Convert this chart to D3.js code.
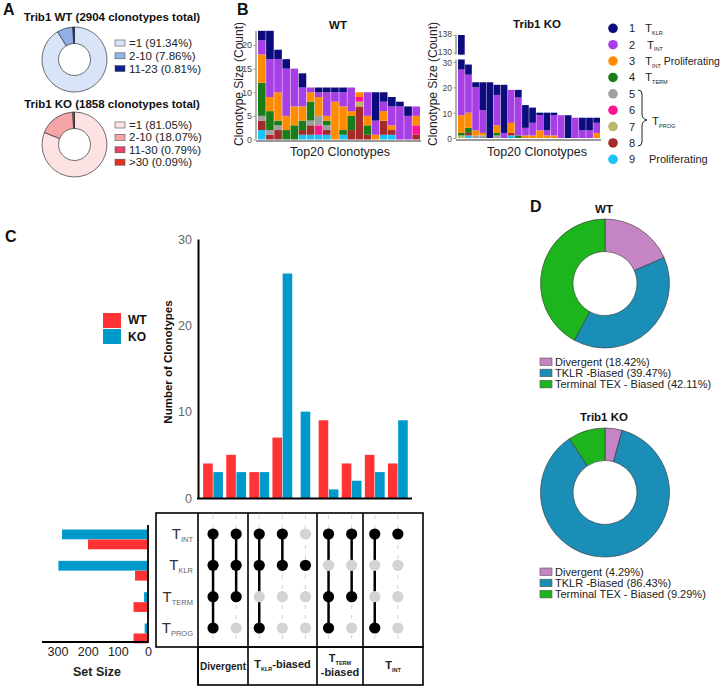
<!DOCTYPE html>
<html><head><meta charset="utf-8">
<script src="https://cdn.jsdelivr.net/npm/d3@7"></script>
<style>body{margin:0;background:#fff}svg{font-family:"Liberation Sans",Arial,sans-serif}</style>
</head><body><svg id="c" width="720" height="687"></svg>
<script>
// ---------------- DATA ----------------
const aWTTitle = "Trib1 WT (2904 clonotypes total)";
const aWTLabels = ["=1 (91.34%)", "2-10 (7.86%)", "11-23 (0.81%)"];
const aWTValues = [91.34, 7.86, 0.81];
const aWTColors = ["#d8e4f7", "#8fb1e6", "#0b1f8f"];
const aKOTitle = "Trib1 KO (1858 clonotypes total)";
const aKOLabels = ["=1 (81.05%)", "2-10 (18.07%)", "11-30 (0.79%)", ">30 (0.09%)"];
const aKOValues = [81.05, 18.07, 0.79, 0.09];
const aKOColors = ["#fde2e4", "#f5a4a7", "#e8456b", "#e0301e"];

const clusterIds = [1, 2, 3, 4, 5, 6, 7, 8, 9];
const clusterColors = ["#0c0c7c", "#a83ee6", "#ff8c00", "#1a7d1a", "#a0a0a0", "#ff1493", "#bdb76b", "#a52a2a", "#19c3f5"];
// counts per cluster 1..9 for each of the top-20 clonotypes
const wtTop20 = [
  [2,3,6,7,1,0,0,2,2],[6,8,3,4,1,0,0,1,0],[2,7,6,1,1,0,0,2,0],[2,10,3,2,0,0,0,0,0],
  [0,8,4,3,0,0,0,0,0],[3,4,3,2,0,0,0,1,1],[0,1,2,4,1,0,0,2,1],[1,1,4,0,2,2,0,0,1],
  [1,5,1,1,1,0,0,1,1],[1,2,8,0,0,0,0,0,0],[1,3,5,1,0,0,0,0,1],[0,5,1,3,0,0,0,2,0],
  [0,0,1,0,0,1,1,7,0],[0,5,2,2,0,0,0,1,0],[6,3,1,0,0,0,0,0,0],[2,2,2,0,0,0,0,3,1],
  [2,4,1,0,0,0,0,1,1],[1,7,0,0,0,0,0,0,0],[2,5,0,0,0,0,0,0,0],[0,2,2,0,0,2,0,1,0]
];
const koTop20 = [
  [111,18,7,1,0,0,1,0,0],[4,15,6,2,0,0,0,1,1],[2,17,2,0,1,0,0,0,0],[11,9,1,0,1,0,0,0,0],
  [22,0,0,0,0,0,0,0,0],[4,12,3,1,1,0,0,0,0],[19,2,0,0,0,0,0,0,0],[0,13,4,0,0,0,0,1,1],
  [3,15,0,1,0,0,0,0,0],[9,3,1,0,0,0,0,0,0],[6,5,1,0,0,0,0,0,0],[1,6,3,0,0,0,0,0,0],
  [7,2,1,0,0,0,0,0,0],[1,8,1,0,0,0,0,0,0],[0,9,0,0,0,0,0,0,0],[9,0,0,0,0,0,0,0,0],
  [0,8,0,0,0,0,0,0,0],[5,3,0,0,0,0,0,0,0],[5,3,0,0,0,0,0,0,0],[2,4,2,0,0,0,0,0,0]
];
const wtTicks = [0, 5, 10, 15, 20];
const koLowTicks = [0, 10, 20, 30];
const koHighTicks = [130, 138];

const upsetWT = [4, 5, 3, 7, 0, 9, 4, 5, 4];
const upsetKO = [3, 3, 3, 26, 10, 1, 2, 3, 9];
const upsetTicks = [0, 10, 20, 30];
const upsetSets = ["INT", "KLR", "TERM", "PROG"];
const upsetMembership = [
  ["INT","KLR","TERM","PROG"], ["INT","KLR","TERM"], ["INT","KLR","PROG"], ["INT","KLR"],
  ["KLR"], ["INT","TERM","PROG"], ["INT","TERM"], ["INT","PROG"], ["INT"]
];
const upsetGroups = ["Divergent", "KLR", "TERM", "INT"];
const setSizeWT = [199, 43, 48, 48];
const setSizeKO = [285, 297, 13, 11];
const setSizeTicks = [300, 200, 100, 0];

const dLabels = ["Divergent", "TKLR -Biased", "Terminal TEX - Biased"];
const dColors = ["#c585c4", "#1a8eb6", "#1db51d"];
const dWTValues = [18.42, 39.47, 42.11];
const dKOValues = [4.29, 86.43, 9.29];

const RED = "#ff3333", BLUE = "#0099cc";

// ---------------- HELPERS ----------------
const svg = d3.select("#c");
function txt(x, y, s, o = {}) {
  const t = svg.append("text").attr("x", x).attr("y", y).text(s)
    .attr("font-size", o.size || 12).attr("fill", o.fill || "#111")
    .attr("font-weight", o.weight || "normal").attr("text-anchor", o.anchor || "start");
  if (o.rotate) t.attr("transform", `rotate(${o.rotate},${x},${y})`);
  return t;
}
function tsub(x, y, sub, o = {}) {
  const t = svg.append("text").attr("x", x).attr("y", y)
    .attr("text-anchor", o.anchor || "start").attr("fill", o.fill || "#111")
    .attr("font-weight", o.weight || "normal");
  t.append("tspan").attr("font-size", o.size || 12).text("T");
  t.append("tspan").attr("font-size", o.subSize || 6).attr("dy", o.subDy || 2.5)
    .attr("fill", o.subFill || o.fill || "#111").text(sub);
  if (o.after) t.append("tspan").attr("font-size", o.afterSize || o.size || 12).attr("dy", -(o.subDy || 2.5)).text(o.after);
  return t;
}

// ---------------- PANEL A ----------------
txt(3, 15, "A", {size: 16, weight: "bold"});
function donutA(cx, cy, values, colors, labels, title, titleY, legY, legStep) {
  txt(112, titleY, title, {size: 11.5, weight: "bold", anchor: "middle"});
  const pie = d3.pie().sort(null).value(d => d)(values);
  const arc = d3.arc().innerRadius(16).outerRadius(32.5);
  svg.append("g").attr("transform", `translate(${cx},${cy})`)
    .selectAll("path").data(pie).join("path")
    .attr("d", arc).attr("fill", (d, i) => colors[i]).attr("stroke", "#333").attr("stroke-width", 0.7);
  labels.forEach((l, i) => {
    const y = legY + i * legStep;
    svg.append("rect").attr("x", 115).attr("y", y - 3).attr("width", 10).attr("height", 6)
      .attr("fill", colors[i]).attr("stroke", "#555").attr("stroke-width", 0.6);
    txt(129, y + 4, l, {size: 11.5, fill: "#222"});
  });
}
donutA(74.5, 59.5, aWTValues, aWTColors, aWTLabels, aWTTitle, 21, 43, 12.8);
donutA(74.5, 144.5, aKOValues, aKOColors, aKOLabels, aKOTitle, 108, 125, 12.4);

// ---------------- PANEL B ----------------
txt(237, 15, "B", {size: 16, weight: "bold"});
const stackKeys = [8, 7, 6, 5, 4, 3, 2, 1, 0]; // cluster 9 at bottom ... cluster 1 on top
function stackRows(rows) {
  return d3.stack().keys(stackKeys).value((d, k) => d[k])(rows);
}
// WT
const xWT = d3.scaleBand().domain(d3.range(20)).range([258, 420]).paddingInner(0.06);
const yWT = d3.scaleLinear().domain([0, 20]).range([139.5, 45]);
const gWT = svg.append("g");
stackRows(wtTop20).forEach(layer => {
  gWT.selectAll(null).data(layer.filter(d => d[1] > d[0])).join("rect")
    .attr("x", d => xWT(wtTop20.indexOf(d.data)))
    .attr("width", xWT.bandwidth())
    .attr("y", d => yWT(d[1])).attr("height", d => yWT(d[0]) - yWT(d[1]))
    .attr("fill", clusterColors[layer.key]);
});
const axWT = svg.append("g").attr("transform", "translate(256,0)")
  .call(d3.axisLeft(yWT).tickValues(wtTicks).tickSize(2.5).tickPadding(1.5));
axWT.select(".domain").attr("d", `M0,${yWT(0)}V31`).attr("stroke", "#999").attr("stroke-width", 1.5);
axWT.selectAll(".tick line").attr("stroke", "#999");
axWT.selectAll(".tick text").attr("font-size", 9).attr("fill", "#444").attr("font-family", "Liberation Sans, Arial");
svg.append("line").attr("x1", 256).attr("x2", 421).attr("y1", 141).attr("y2", 141).attr("stroke", "#999").attr("stroke-width", 2);
txt(243, 84, "Clonotype Size (Count)", {size: 12, anchor: "middle", rotate: -90, fill: "#222"});
txt(338, 29, "WT", {size: 11.5, weight: "bold", anchor: "middle"});
txt(340, 156, "Top20 Clonotypes", {size: 12.5, anchor: "middle", fill: "#222"});

// KO (broken axis)
const xKO = d3.scaleBand().domain(d3.range(20)).range([458, 600]).paddingInner(0.06);
const yKOlow = d3.scaleLinear().domain([0, 30]).range([138, 62]);
const yKOhigh = d3.scaleLinear().domain([130, 138]).range([52.5, 35]);
const LOWMAX = 31, HIGHMIN = 129;
const gKO = svg.append("g");
stackRows(koTop20).forEach(layer => {
  layer.filter(d => d[1] > d[0]).forEach(d => {
    const xi = xKO(koTop20.indexOf(d.data));
    if (d[0] < LOWMAX) {
      const top = Math.min(d[1], LOWMAX);
      gKO.append("rect").attr("x", xi).attr("width", xKO.bandwidth())
        .attr("y", yKOlow(top)).attr("height", yKOlow(d[0]) - yKOlow(top)).attr("fill", clusterColors[layer.key]);
    }
    if (d[1] > HIGHMIN) {
      const bot = Math.max(d[0], HIGHMIN);
      gKO.append("rect").attr("x", xi).attr("width", xKO.bandwidth())
        .attr("y", yKOhigh(d[1])).attr("height", yKOhigh(bot) - yKOhigh(d[1])).attr("fill", clusterColors[layer.key]);
    }
  });
});
const axKOl = svg.append("g").attr("transform", "translate(456,0)")
  .call(d3.axisLeft(yKOlow).tickValues(koLowTicks).tickSize(2.5).tickPadding(1.5));
axKOl.select(".domain").attr("d", `M0,${yKOlow(0)}V${yKOlow(LOWMAX)}`).attr("stroke", "#999").attr("stroke-width", 1.5);
const axKOh = svg.append("g").attr("transform", "translate(456,0)")
  .call(d3.axisLeft(yKOhigh).tickValues(koHighTicks).tickSize(2.5).tickPadding(1.5));
axKOh.select(".domain").attr("d", `M0,${yKOhigh(HIGHMIN)}V${yKOhigh(138)}`).attr("stroke", "#999").attr("stroke-width", 1.5);
[axKOl, axKOh].forEach(a => {
  a.selectAll(".tick line").attr("stroke", "#999");
  a.selectAll(".tick text").attr("font-size", 8.5).attr("fill", "#444").attr("font-family", "Liberation Sans, Arial");
});
axKOh.selectAll(".tick text").attr("dy", "0.2em");
axKOl.selectAll(".tick text").attr("dy", "0.4em");
svg.append("line").attr("x1", 456).attr("x2", 601).attr("y1", 140).attr("y2", 140).attr("stroke", "#999").attr("stroke-width", 2);
txt(437, 84, "Clonotype Size (Count)", {size: 12, anchor: "middle", rotate: -90, fill: "#222"});
txt(537, 28, "Trib1 KO", {size: 11.5, weight: "bold", anchor: "middle"});
txt(537, 156, "Top20 Clonotypes", {size: 12.5, anchor: "middle", fill: "#222"});

// Legend B
const legY = d3.scaleLinear().domain([0, 8]).range([28.3, 159.3]);
clusterIds.forEach((id, i) => {
  svg.append("circle").attr("cx", 613).attr("cy", legY(i)).attr("r", 4.8).attr("fill", clusterColors[i]);
  txt(632, legY(i) + 4, String(id), {size: 11, anchor: "middle", fill: "#222"});
});
tsub(645, legY(0) + 4, "KLR", {size: 11.5, subSize: 5.5, fill: "#222"});
tsub(647, legY(1) + 4, "INT", {size: 11.5, subSize: 5.5, fill: "#222"});
tsub(645, legY(2) + 4, "INT", {size: 11.5, subSize: 5.5, fill: "#222", after: " Proliferating", afterSize: 10.5});
tsub(645, legY(3) + 4, "TERM", {size: 11.5, subSize: 5.5, fill: "#222"});
svg.append("path").attr("d", "M638,90 q4,0 4,4 v20 q0,5 5,6 q-5,1 -5,6 v16 q0,4 -4,4")
  .attr("fill", "none").attr("stroke", "#222").attr("stroke-width", 1);
tsub(652, 125, "PROG", {size: 11.5, subSize: 5.5, fill: "#222"});
txt(649, legY(8) + 4, "Proliferating", {size: 11, fill: "#222"});

// ---------------- PANEL C ----------------
txt(5, 242, "C", {size: 16, weight: "bold"});
const xCol = d3.scaleBand().domain(d3.range(9)).range([201.5, 409.4]);
const colC = i => xCol(i) + xCol.bandwidth() / 2;
const yC = d3.scaleLinear().domain([0, 30]).range([498, 239]);
const bw = 9.6;
upsetWT.forEach((v, i) => {
  const ko = upsetKO[i];
  if (v > 0) {
    svg.append("rect").attr("x", colC(i) - bw - 0.3).attr("width", bw).attr("y", yC(v)).attr("height", yC(0) - yC(v)).attr("fill", RED);
    svg.append("rect").attr("x", colC(i) + 0.3).attr("width", bw).attr("y", yC(ko)).attr("height", yC(0) - yC(ko)).attr("fill", BLUE);
  } else {
    svg.append("rect").attr("x", colC(i) - bw / 2).attr("width", bw).attr("y", yC(ko)).attr("height", yC(0) - yC(ko)).attr("fill", BLUE);
  }
});
const axC = svg.append("g").attr("transform", "translate(198,0)")
  .call(d3.axisLeft(yC).tickValues(upsetTicks).tickSize(0).tickPadding(6));
axC.select(".domain").attr("stroke", "#000").attr("stroke-width", 2);
axC.selectAll(".tick text").attr("font-size", 12.5).attr("fill", "#666").attr("font-family", "Liberation Sans, Arial");
svg.append("line").attr("x1", 197).attr("x2", 412).attr("y1", 498.5).attr("y2", 498.5).attr("stroke", "#000").attr("stroke-width", 2);
txt(172, 362, "Number of Clonotypes", {size: 11.5, weight: "bold", anchor: "middle", rotate: -90});

// legend C
svg.append("rect").attr("x", 103).attr("y", 313).attr("width", 18).attr("height", 15).attr("fill", RED);
svg.append("rect").attr("x", 103).attr("y", 329).attr("width", 18).attr("height", 15).attr("fill", BLUE);
txt(128, 324, "WT", {size: 12, weight: "bold"});
txt(128, 341, "KO", {size: 12, weight: "bold"});

// Upset matrix
const yRow = d3.scalePoint().domain(upsetSets).range([534, 628]);
d3.range(9).forEach(i => {
  svg.append("line").attr("x1", colC(i)).attr("x2", colC(i)).attr("y1", 515).attr("y2", 645)
    .attr("stroke", "#d9d9d9").attr("stroke-width", 1.2).attr("stroke-dasharray", "4,6");
});
upsetMembership.forEach((m, i) => {
  const ys = m.map(s => yRow(s));
  if (ys.length > 1) {
    svg.append("line").attr("x1", colC(i)).attr("x2", colC(i)).attr("y1", d3.min(ys)).attr("y2", d3.max(ys))
      .attr("stroke", "#000").attr("stroke-width", 2.5);
  }
  upsetSets.forEach(s => {
    svg.append("circle").attr("cx", colC(i)).attr("cy", yRow(s)).attr("r", 5.6)
      .attr("fill", m.includes(s) ? "#000" : "#d3d3d3");
  });
});
upsetSets.forEach(s => {
  tsub(193, yRow(s) + 5, s, {size: 15, subSize: 7.5, subDy: 3, anchor: "end", fill: "#333", subFill: "#666"});
});
svg.append("rect").attr("x", 156).attr("y", 513).attr("width", 267).attr("height", 134)
  .attr("fill", "none").attr("stroke", "#000").attr("stroke-width", 1.6);
svg.append("rect").attr("x", 198).attr("y", 647).attr("width", 225).attr("height", 38)
  .attr("fill", "none").attr("stroke", "#000").attr("stroke-width", 1.6);
const divX = [198, 248, 317, 363];
divX.forEach(x => svg.append("line").attr("x1", x).attr("x2", x).attr("y1", 513).attr("y2", 685)
  .attr("stroke", "#000").attr("stroke-width", 1.6));
const grpBounds = [[198, 248], [248, 317], [317, 363], [363, 423]];
txt((grpBounds[0][0] + grpBounds[0][1]) / 2, 670, upsetGroups[0], {size: 10, weight: "bold", anchor: "middle", fill: "#222"});
tsub((grpBounds[1][0] + grpBounds[1][1]) / 2, 668, upsetGroups[1], {size: 11, subSize: 5.5, weight: "bold", anchor: "middle", fill: "#222", after: "-biased"});
tsub((grpBounds[2][0] + grpBounds[2][1]) / 2, 662, upsetGroups[2], {size: 11, subSize: 5.5, weight: "bold", anchor: "middle", fill: "#222"});
txt((grpBounds[2][0] + grpBounds[2][1]) / 2, 676, "-biased", {size: 11, weight: "bold", anchor: "middle", fill: "#222"});
tsub((grpBounds[3][0] + grpBounds[3][1]) / 2, 669, upsetGroups[3], {size: 11, subSize: 5.5, weight: "bold", anchor: "middle", fill: "#222"});

// Set size
const xSet = d3.scaleLinear().domain([0, 300]).range([148, 57.5]);
upsetSets.forEach((s, i) => {
  const yc = yRow(s);
  svg.append("rect").attr("x", xSet(setSizeKO[i])).attr("width", xSet(0) - xSet(setSizeKO[i]))
    .attr("y", yc - 4.5).attr("height", 9.8).attr("fill", BLUE);
  svg.append("rect").attr("x", xSet(setSizeWT[i])).attr("width", xSet(0) - xSet(setSizeWT[i]))
    .attr("y", yc + 5.5).attr("height", 9.8).attr("fill", RED);
});
const axS = svg.append("g").attr("transform", "translate(0,642)")
  .call(d3.axisBottom(xSet).tickValues(setSizeTicks).tickSize(0).tickPadding(5));
axS.select(".domain").attr("d", "M42,0H148").attr("stroke", "#000").attr("stroke-width", 1.8);
axS.selectAll(".tick text").attr("font-size", 12.5).attr("fill", "#222").attr("font-family", "Liberation Sans, Arial");
svg.append("line").attr("x1", 148).attr("x2", 148).attr("y1", 525).attr("y2", 643).attr("stroke", "#000").attr("stroke-width", 1.8);
txt(97, 676, "Set Size", {size: 12.5, weight: "bold", anchor: "middle", fill: "#222"});

// ---------------- PANEL D ----------------
txt(530, 212, "D", {size: 16, weight: "bold"});
function donutD(cx, cy, values, title, titleY, legY0) {
  txt(cx - 1, titleY, title, {size: 11.5, weight: "bold", anchor: "middle"});
  const pie = d3.pie().sort(null).value(d => d)(values);
  const arc = d3.arc().innerRadius(32).outerRadius(64.5);
  svg.append("g").attr("transform", `translate(${cx},${cy})`)
    .selectAll("path").data(pie).join("path")
    .attr("d", arc).attr("fill", (d, i) => dColors[i]).attr("stroke", "#333").attr("stroke-width", 0.6);
  dLabels.forEach((l, i) => {
    const y = legY0 + i * 11.2;
    svg.append("rect").attr("x", 540).attr("y", y - 3.5).attr("width", 12).attr("height", 7.5)
      .attr("fill", dColors[i]).attr("stroke", "#555").attr("stroke-width", 0.6);
    txt(555, y + 4, `${l} (${values[i].toFixed(2)}%)`, {size: 11, fill: "#222"});
  });
}
donutD(605, 283.5, dWTValues, "WT", 213, 361.5);
donutD(605, 492.5, dKOValues, "Trib1 KO", 421, 571.5);
</script></body></html>
